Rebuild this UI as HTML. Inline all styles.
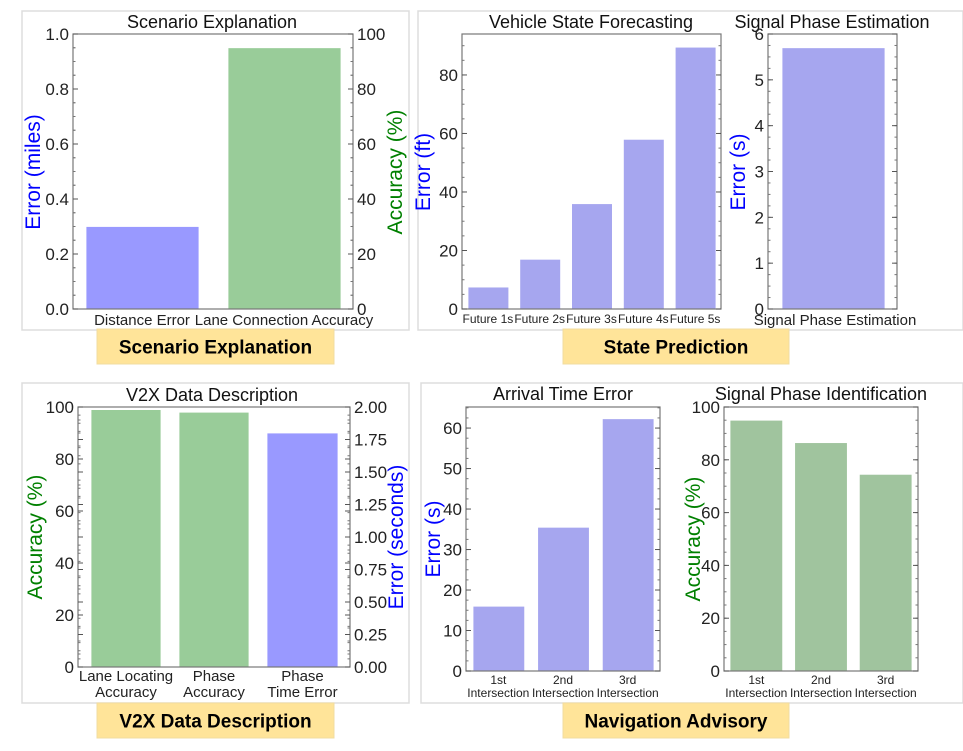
<!DOCTYPE html>
<html><head><meta charset="utf-8"><style>
body{margin:0;background:#fff;width:963px;height:751px;overflow:hidden;font-family:"Liberation Sans",sans-serif}
svg{position:absolute;left:0;top:0}
</style></head><body>
<svg id="s" width="963" height="751" xmlns="http://www.w3.org/2000/svg"></svg>
<script>
// ---- data ----
const seCats = ["Distance Error","Lane Connection Accuracy"];
const seErr = [0.3];
const seAcc = [95];
const vsfCats = ["Future 1s","Future 2s","Future 3s","Future 4s","Future 5s"];
const vsfVals = [7.5,17,36,58,89.5];
const vsfTicks = [0,20,40,60,80];
const speCats = ["Signal Phase Estimation"];
const speVals = [5.7];
const speTicks = [0,1,2,3,4,5,6];
const v2xCats = [["Lane Locating","Accuracy"],["Phase","Accuracy"],["Phase","Time Error"]];
const v2xAcc = [99,98];
const v2xErr = [1.8];
const v2xLeftTicks = [0,20,40,60,80,100];
const v2xRightTicks = ["0.00","0.25","0.50","0.75","1.00","1.25","1.50","1.75","2.00"];
const ateCats = [["1st","Intersection"],["2nd","Intersection"],["3rd","Intersection"]];
const ateVals = [16,35.5,62.3];
const ateTicks = [0,10,20,30,40,50,60];
const spiVals = [95,86.5,74.5];
const spiTicks = [0,20,40,60,80,100];
const seLeftTicks = ["0.0","0.2","0.4","0.6","0.8","1.0"];
const seRightTicks = [0,20,40,60,80,100];

const S=document.getElementById('s');const NS="http://www.w3.org/2000/svg";
function el(t,a,txt){const e=document.createElementNS(NS,t);for(const k in a)e.setAttribute(k,a[k]);if(txt!==undefined)e.textContent=txt;S.appendChild(e);return e;}
const BLUE="#9999ff",BLUE2="#a6a6ef",GREEN="#99cc99",GREEN2="#a0c49e";

function frame(x,y,w,h,name){const r=el('rect',{x:x,y:y,width:w,height:h,fill:'none',stroke:'#ddd','stroke-width':1.5});

}
function banner(x,y,w,h,txt,name){const r=el('rect',{x:x,y:y,width:w,height:h,fill:'#ffe499',stroke:'#f2dca0'});


const t=el('text',{x:x+w/2,y:y+h/2+7,'text-anchor':'middle','font-size':19,'font-weight':'bold',fill:'#000'},txt);

}
function axbox(L,T,R,B,name){const r=el('rect',{x:L,y:T,width:R-L,height:B-T,fill:'none',stroke:'#777','stroke-width':1.2});

}
function yTicks(L,R,T,B,max,ticks,side,fs,name){
 const sc=v=>B-(v/max)*(B-T);
 const vals=ticks.map(t=>parseFloat(t));
 const step=vals.length>1?vals[1]-vals[0]:max;
 for(let v=0;v<=max+1e-9;v+=step/4){const y=sc(v);
  el('line',{x1:L,y1:y,x2:L+2.5,y2:y,stroke:'#777'});
  el('line',{x1:R,y1:y,x2:R-2.5,y2:y,stroke:'#777'});}
 ticks.forEach(tk=>{const v=parseFloat(tk);const y=sc(v);
  el('line',{x1:L,y1:y,x2:L+5,y2:y,stroke:'#555'});
  el('line',{x1:R,y1:y,x2:R-5,y2:y,stroke:'#555'});
  const t=el('text',{x:side==='l'?L-4:R+4,y:y+6,'text-anchor':side==='l'?'end':'start','font-size':fs,fill:'#222'},String(tk));
  
  });
}
function title(x,y,txt,name){const t=el('text',{x:x,y:y,'text-anchor':'middle','font-size':18,fill:'#111'},txt);

}
function vlabel(x,y,parts,name){const t=el('text',{x:x,y:y,'text-anchor':'middle','font-size':21,transform:`rotate(-90 ${x} ${y})`});


parts.forEach(p=>{const ts=document.createElementNS(NS,'tspan');ts.setAttribute('fill',p[1]);ts.textContent=p[0];t.appendChild(ts);});}
function bar(x0,x1,v,max,T,B,fill,name){const y=B-(v/max)*(B-T);const r=el('rect',{x:x0,y:y,width:x1-x0,height:B-y,fill:fill,stroke:'#fff','stroke-width':0.8});

}
function catLabel(x,y,lines,fs,name,lh){lines.forEach((ln,i)=>{const t=el('text',{x:x,y:y+i*(lh||16),'text-anchor':'middle','font-size':fs,fill:'#222'},ln);

});}

// Panel 1: Scenario Explanation
frame(22,11,387,319,'scenario-frame');
(function(){const L=73,R=353,T=34,B=309;
 title(212,28,'Scenario Explanation','scenario-title');
 bar(86,199,seErr[0],1,T,B,BLUE,'bar-distance-error');
 bar(228,341,seAcc[0],100,T,B,GREEN,'bar-lane-connection-accuracy');
 axbox(L,T,R,B,'scenario-axes');
 yTicks(L,R,T,B,1,seLeftTicks,'l',17,'scenario-left');
 yTicks(L,R,T,B,100,seRightTicks,'r',17,'scenario-right');
 catLabel(142,325,[seCats[0]],15,'x-label-distance-error');
 catLabel(284,325,[seCats[1]],15,'x-label-lane-connection');
 vlabel(40,172,[['Error (miles)','#0000ff']],'y-axis-title-error');
 vlabel(402,172,[['Accuracy (%)','#008000']],'y-axis-title-accuracy');
})();
banner(97,329,237,35,'Scenario Explanation','scenario-banner');

// Panel 2: State Prediction
frame(418,11,545,319,'state-frame');
(function(){const L=462,R=721,T=34,B=309,max=94;
 title(591,28,'Vehicle State Forecasting','vsf-title');
 const bw=(R-L)/vsfCats.length;
 vsfVals.forEach((v,i)=>bar(L+i*bw+6,L+(i+1)*bw-5,v,max,T,B,BLUE2,'bar-'+vsfCats[i].replace(' ','-').toLowerCase()));
 axbox(L,T,R,B,'vsf-axes');
 yTicks(L,R,T,B,max,vsfTicks,'l',17,'vsf');
 vsfCats.forEach((c,i)=>catLabel(L+(i+.5)*bw,323,[c],12,'x-label-'+c.replace(' ','-').toLowerCase()));
 vlabel(430,172,[['Error (ft)','#0000ff']],'y-axis-title-vsf');
})();
(function(){const L=768,R=897,T=34,B=309,max=6;
 title(832,28,'Signal Phase Estimation','spe-title');
 bar(782,885,speVals[0],max,T,B,BLUE2,'bar-signal-phase-estimation');
 axbox(L,T,R,B,'spe-axes');
 yTicks(L,R,T,B,max,speTicks,'l',17,'spe');
 catLabel(835,325,speCats,15,'x-label-signal-phase-estimation');
 vlabel(745,172,[['Error (s)','#0000ff']],'y-axis-title-spe');
})();
banner(563,329,226,35,'State Prediction','state-banner');

// Panel 3: V2X
frame(22,383,387,320,'v2x-frame');
(function(){const L=78,R=350,T=407,B=667;
 title(212,401,'V2X Data Description','v2x-title');
 const xs=[[91,161],[179,249],[267,338]];
 v2xAcc.forEach((v,i)=>bar(xs[i][0],xs[i][1],v,100,T,B,GREEN,'bar-v2x-accuracy-'+i));
 bar(xs[2][0],xs[2][1],v2xErr[0],2,T,B,BLUE,'bar-phase-time-error');
 axbox(L,T,R,B,'v2x-axes');
 yTicks(L,R,T,B,100,v2xLeftTicks,'l',17,'v2x-left');
 yTicks(L,R,T,B,2,v2xRightTicks,'r',17,'v2x-right');
 v2xCats.forEach((c,i)=>catLabel((xs[i][0]+xs[i][1])/2,681,c,15,'x-label-v2x'));
 vlabel(42,537,[['Accuracy ','#008000'],['(%)','#008000']],'y-axis-title-v2x-accuracy');
 vlabel(403,537,[['Error (seconds)','#0000ff']],'y-axis-title-v2x-error');
})();
banner(97,703,237,35,'V2X Data Description','v2x-banner');

// Panel 4: Navigation Advisory
frame(421,383,542,320,'nav-frame');
(function(){const L=466,R=660,T=407,B=671,max=65.2;
 title(563,400,'Arrival Time Error','ate-title');
 const bw=(R-L)/3;
 ateVals.forEach((v,i)=>bar(L+i*bw+7,L+(i+1)*bw-6,v,max,T,B,BLUE2,'bar-arrival-'+i));
 axbox(L,T,R,B,'ate-axes');
 yTicks(L,R,T,B,max,ateTicks,'l',17,'ate');
 ateCats.forEach((c,i)=>catLabel(L+(i+.5)*bw,684,c,12,'x-label-ate',13));
 vlabel(440,539,[['Error (s)','#0000ff']],'y-axis-title-ate');
})();
(function(){const L=724,R=918,T=407,B=671,max=100;
 title(821,400,'Signal Phase Identification','spi-title');
 const bw=(R-L)/3;
 spiVals.forEach((v,i)=>bar(L+i*bw+6,L+(i+1)*bw-6,v,max,T,B,GREEN2,'bar-spi-'+i));
 axbox(L,T,R,B,'spi-axes');
 yTicks(L,R,T,B,max,spiTicks,'l',17,'spi');
 ateCats.forEach((c,i)=>catLabel(L+(i+.5)*bw,684,c,12,'x-label-spi',13));
 vlabel(700,539,[['Accuracy (%)','#008000']],'y-axis-title-spi');
})();
banner(563,703,226,35,'Navigation Advisory','nav-banner');
</script>
</body></html>
